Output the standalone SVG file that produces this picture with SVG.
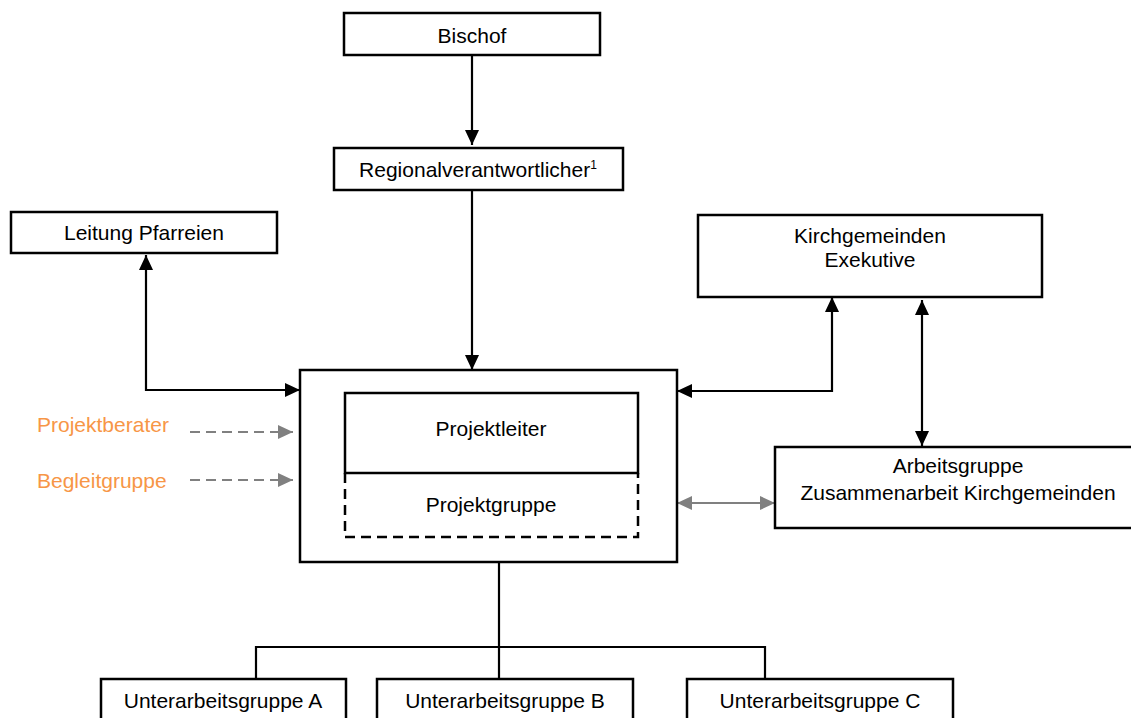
<svg xmlns="http://www.w3.org/2000/svg" width="1131" height="718" viewBox="0 0 1131 718">
<style>
.box{fill:#fff;stroke:#000;stroke-width:2.5}
.t{font-family:"Liberation Sans",Arial,sans-serif;font-size:21px;fill:#000;text-anchor:middle}
.o{font-family:"Liberation Sans",Arial,sans-serif;font-size:21px;fill:#F79646}
.c{fill:none;stroke:#000;stroke-width:2.2}
.g{fill:none;stroke:#808080;stroke-width:2.2}
.gd{fill:none;stroke:#808080;stroke-width:2.2;stroke-dasharray:10 6}
</style>
<defs>
<marker id="ab" markerUnits="userSpaceOnUse" markerWidth="16" markerHeight="14" refX="15" refY="7" orient="auto-start-reverse"><path d="M0,0 L15,7 L0,14 z" fill="#000"/></marker>
<marker id="ag" markerUnits="userSpaceOnUse" markerWidth="16" markerHeight="14" refX="15" refY="7" orient="auto-start-reverse"><path d="M0,0 L15,7 L0,14 z" fill="#808080"/></marker>
</defs>
<rect width="1131" height="718" fill="#fff"/>
<g id="connectors">
<line class="c" x1="472" y1="55" x2="472" y2="145" marker-end="url(#ab)"/>
<line class="c" x1="472" y1="190" x2="472" y2="370" marker-end="url(#ab)"/>
<path class="c" d="M146,255 L146,390 L300,390" marker-start="url(#ab)" marker-end="url(#ab)"/>
<path class="c" d="M832,297 L832,391 L677,391" marker-start="url(#ab)" marker-end="url(#ab)"/>
<line class="c" x1="922" y1="300" x2="922" y2="446" marker-start="url(#ab)" marker-end="url(#ab)"/>
<line class="g" x1="677" y1="503" x2="775" y2="503" marker-start="url(#ag)" marker-end="url(#ag)"/>
<line class="gd" x1="190" y1="432" x2="293" y2="432" marker-end="url(#ag)"/>
<line class="gd" x1="190" y1="480" x2="293" y2="480" marker-end="url(#ag)"/>
<path class="c" d="M499,562 L499,679 M256,679 L256,647 L765,647 L765,679"/>
</g>
<g id="bischof"><rect class="box" x="344" y="13" width="256" height="42"/><text class="t" x="472" y="43">Bischof</text></g>
<g id="regional"><rect class="box" x="334" y="148" width="289" height="42"/><text class="t" x="478" y="177">Regionalverantwortlicher<tspan font-size="12" dy="-8">1</tspan></text></g>
<g id="leitung"><rect class="box" x="11" y="212" width="266" height="41"/><text class="t" x="144" y="240">Leitung Pfarreien</text></g>
<g id="kirchgemeinden"><rect class="box" x="698" y="215" width="344" height="82"/><text class="t" x="870" y="243">Kirchgemeinden</text><text class="t" x="870" y="267">Exekutive</text></g>
<g id="projekt">
<rect class="box" x="300" y="370" width="377" height="192"/>
<rect class="box" x="345" y="393" width="293" height="80"/>
<path d="M345,473 L345,537 L638,537 L638,473" fill="none" stroke="#000" stroke-width="2.5" stroke-dasharray="10 6"/>
<text class="t" x="491" y="436">Projektleiter</text>
<text class="t" x="491" y="512">Projektgruppe</text>
</g>
<g id="projektberater"><text class="o" x="37" y="432">Projektberater</text></g>
<g id="begleitgruppe"><text class="o" x="37" y="488">Begleitgruppe</text></g>
<g id="arbeitsgruppe"><rect class="box" x="775" y="447" width="365" height="81"/><text class="t" x="958" y="473">Arbeitsgruppe</text><text class="t" x="958" y="500">Zusammenarbeit Kirchgemeinden</text></g>
<g id="uag-a"><rect class="box" x="101" y="679" width="245" height="60"/><text class="t" x="223" y="708">Unterarbeitsgruppe A</text></g>
<g id="uag-b"><rect class="box" x="377" y="679" width="256" height="60"/><text class="t" x="505" y="708">Unterarbeitsgruppe B</text></g>
<g id="uag-c"><rect class="box" x="687" y="679" width="266" height="60"/><text class="t" x="820" y="708">Unterarbeitsgruppe C</text></g>
</svg>
